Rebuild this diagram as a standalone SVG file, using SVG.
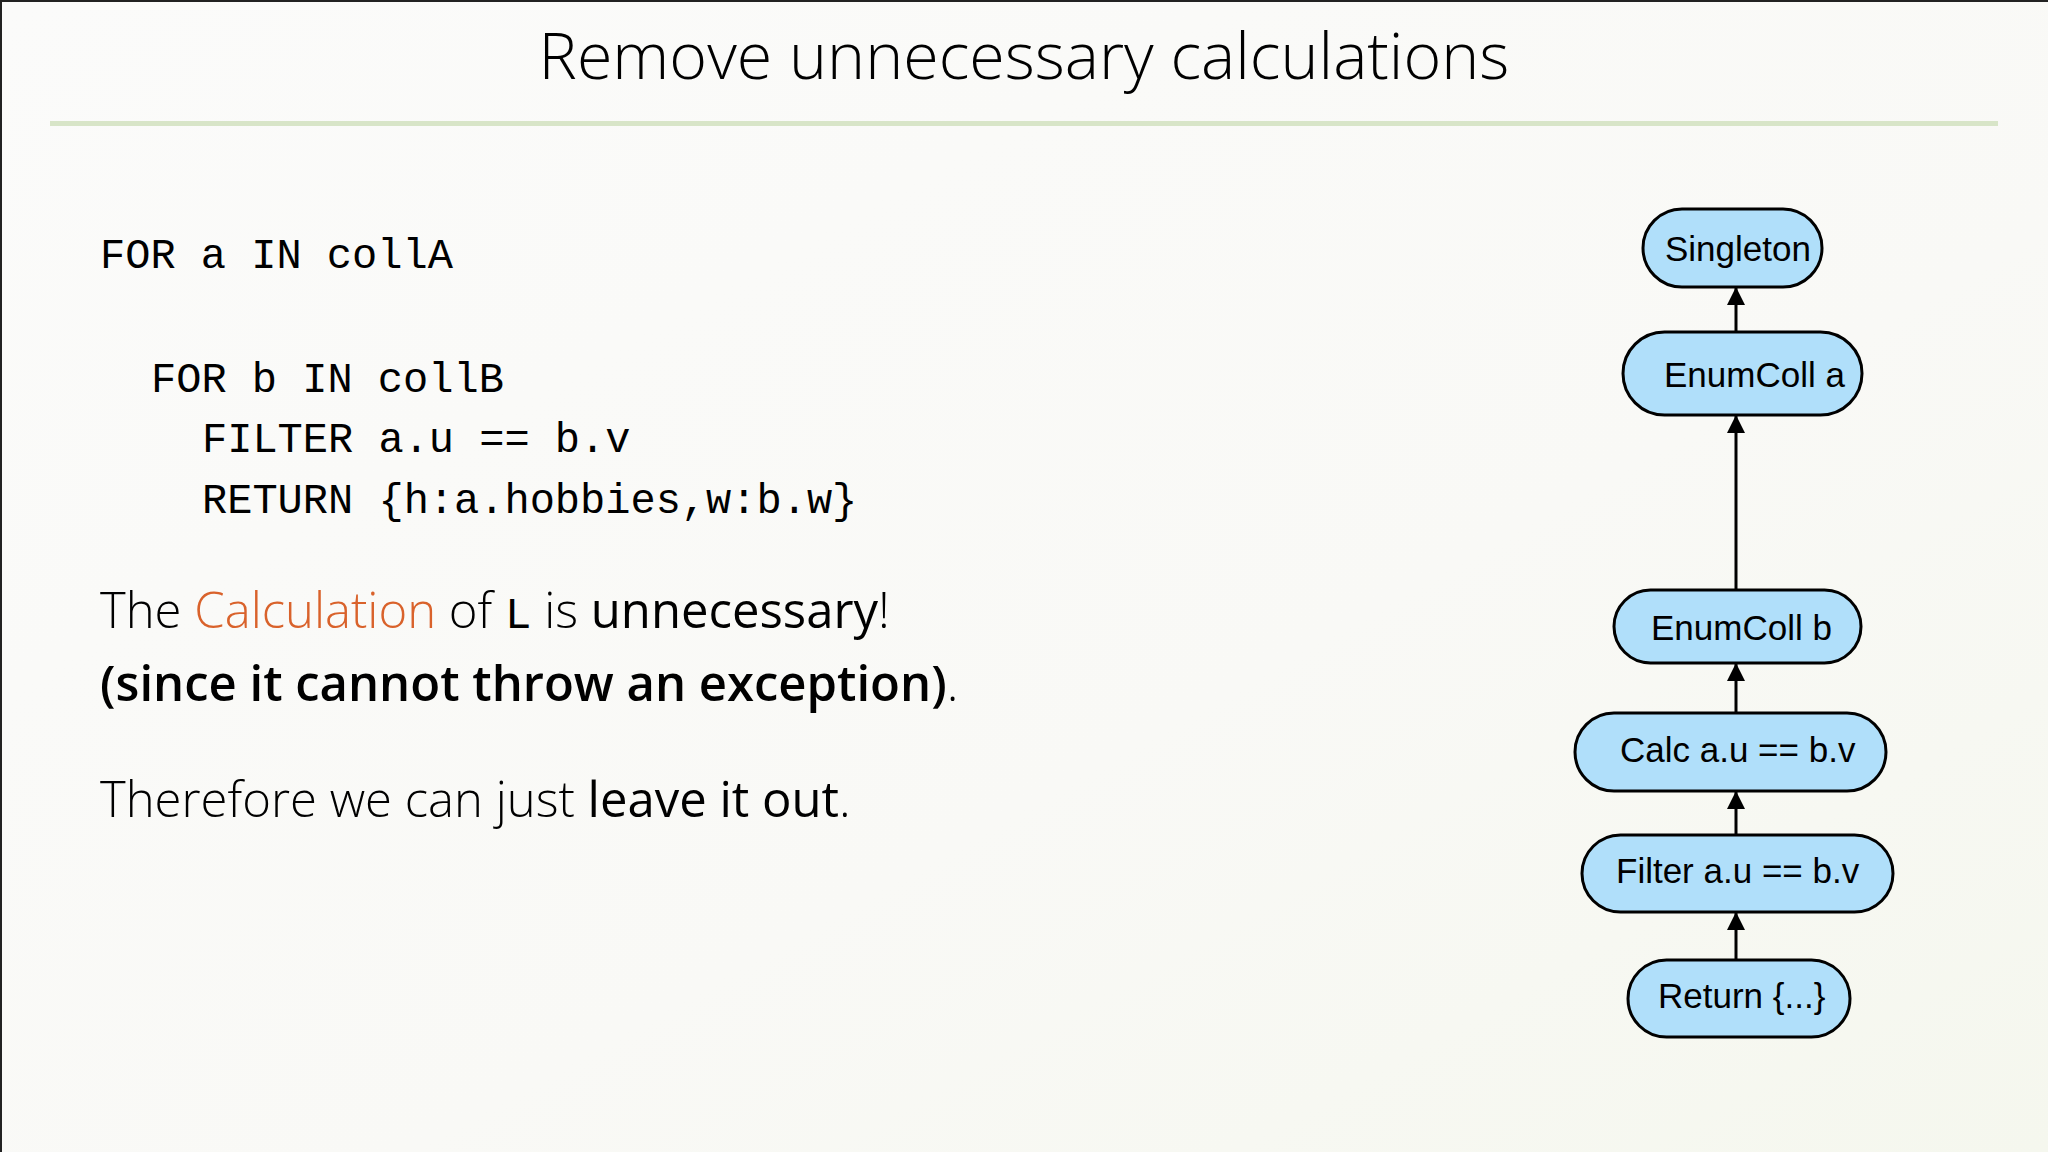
<svg xmlns="http://www.w3.org/2000/svg" width="2048" height="1152" viewBox="0 0 2048 1152">
<defs>
<linearGradient id="bg" x1="0" y1="0" x2="1" y2="1">
<stop offset="0" stop-color="#fbfbfa"/>
<stop offset="0.6" stop-color="#f9f9f6"/>
<stop offset="1" stop-color="#f5f7ee"/>
</linearGradient>
<marker id="ah" markerUnits="userSpaceOnUse" markerWidth="18" markerHeight="18" refX="18" refY="9" orient="auto">
<path d="M0,0 L18,9 L0,18 z" fill="#000"/>
</marker>
<style>
.node rect{fill:#b0dffa;stroke:#000;stroke-width:3}
.node text{font-family:"Liberation Sans",Arial,sans-serif;font-size:35px;fill:#000}
.code{font-family:"Liberation Mono","DejaVu Sans Mono",monospace;font-size:42px;fill:#000}
.para{font-family:"Open Sans","Noto Sans",sans-serif;font-size:49px;fill:#000}
.lt{font-weight:300}
.rg{font-weight:400}
.bd{font-weight:600}
.or{fill:#d9622b;font-weight:300}
.mono{font-family:"Liberation Mono",monospace;font-weight:400;font-size:44px}
#connectors line{stroke:#000;stroke-width:3;marker-end:url(#ah)}
</style>
</defs>
<rect x="0" y="0" width="2048" height="1152" fill="url(#bg)"/>
<line x1="0" y1="1" x2="2048" y2="1" stroke="#222" stroke-width="2"/>
<line x1="1" y1="0" x2="1" y2="1152" stroke="#222" stroke-width="2"/>
<g id="title">
<text x="1024" y="79" text-anchor="middle" font-family="'Open Sans','Noto Sans',sans-serif" font-weight="300" font-size="64.5" fill="#000">Remove unnecessary calculations</text>
<rect x="50" y="121" width="1948" height="5" fill="#d8e5c8"/>
</g>
<g id="code" class="code">
<text x="100" y="268" xml:space="preserve">FOR a IN collA</text>
<text x="151" y="392" xml:space="preserve">FOR b IN collB</text>
<text x="202" y="452" xml:space="preserve">FILTER a.u == b.v</text>
<text x="202" y="513" xml:space="preserve">RETURN {h:a.hobbies,w:b.w}</text>
</g>
<g id="explanation" class="para">
<text x="100" y="628"><tspan class="lt">The </tspan><tspan class="or">Calculation</tspan><tspan class="lt"> of </tspan><tspan class="mono">L</tspan><tspan class="lt"> is </tspan><tspan class="rg">unnecessary</tspan><tspan class="lt">!</tspan></text>
<text x="100" y="701"><tspan class="bd">(since it cannot throw an exception)</tspan><tspan class="lt">.</tspan></text>
<text x="100" y="817"><tspan class="lt">Therefore we can just </tspan><tspan class="rg">leave it out</tspan><tspan class="lt">.</tspan></text>
</g>
<g id="connectors">
<line x1="1736" y1="332" x2="1736" y2="287"/>
<line x1="1736" y1="590" x2="1736" y2="415"/>
<line x1="1736" y1="713" x2="1736" y2="663"/>
<line x1="1736" y1="835" x2="1736" y2="791"/>
<line x1="1736" y1="960" x2="1736" y2="912"/>
</g>
<g id="node-singleton" class="node">
<rect x="1643" y="209" width="179" height="78" rx="39"/>
<text x="1665" y="261">Singleton</text>
</g>
<g id="node-enumcoll-a" class="node">
<rect x="1623" y="332" width="239" height="83" rx="41.5"/>
<text x="1664" y="387">EnumColl a</text>
</g>
<g id="node-enumcoll-b" class="node">
<rect x="1614" y="590" width="247" height="73" rx="36.5"/>
<text x="1651" y="640">EnumColl b</text>
</g>
<g id="node-calc" class="node">
<rect x="1575" y="713" width="311" height="78" rx="39"/>
<text x="1620" y="762">Calc a.u == b.v</text>
</g>
<g id="node-filter" class="node">
<rect x="1582" y="835" width="311" height="77" rx="38.5"/>
<text x="1616" y="883">Filter a.u == b.v</text>
</g>
<g id="node-return" class="node">
<rect x="1628" y="960" width="222" height="77" rx="38.5"/>
<text x="1658" y="1008">Return {...}</text>
</g>
</svg>
